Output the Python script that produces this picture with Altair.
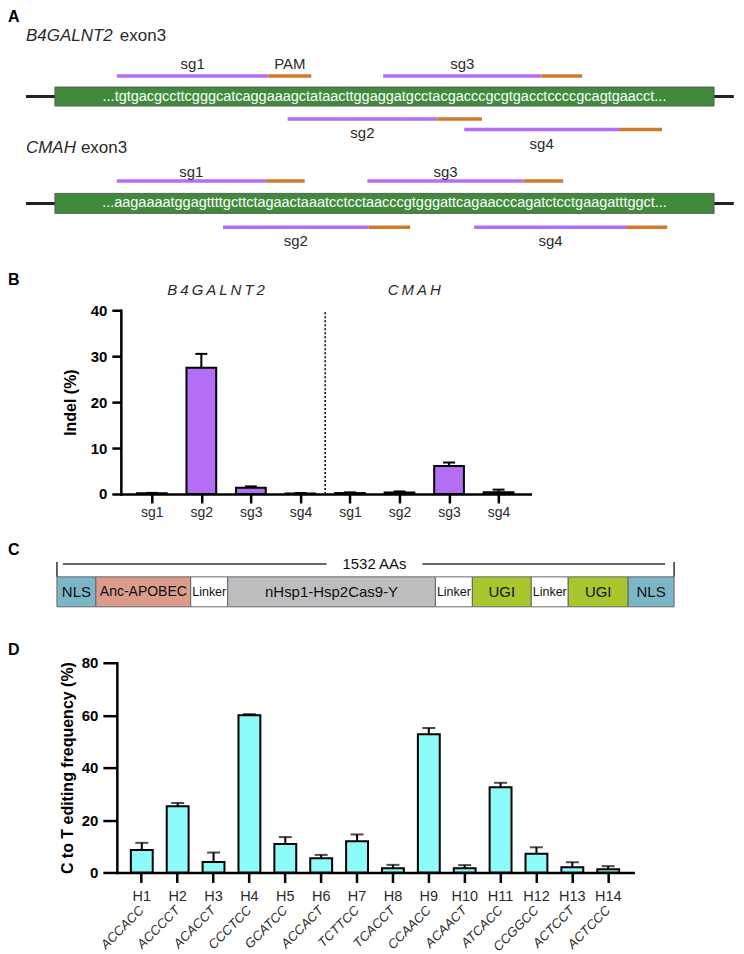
import json
import altair as alt
import pandas as pd

FONT = "Liberation Sans"
W = 728
TXT = "#2a2a2a"
PURPLE = "#B46EF6"
ORANGE = "#D17A2C"
GREEN = "#3F8B3B"
CYAN = "#8EFBFB"

# ======================= DATA =======================
# ---- Panel A: exon sequences and sgRNA positions (position along drawn exon, % of box)
exon_genes = ["B4GALNT2", "CMAH"]
exon_seqs = [
    "...tgtgacgccttcgggcatcaggaaagctataacttggaggatgcctacgacccgcgtgacctccccgcagtgaacct...",
    "...aagaaaatggagttttgcttctagaactaaatcctcctaacccgtgggattcagaacccagatctcctgaagatttggct...",
]
guide_names = ["sg1", "sg2", "sg3", "sg4"]
b4_spacer_start = [9.4, 35.3, 49.8, 62.1]
b4_pam_start = [32.4, 58.0, 73.8, 85.6]
b4_pam_end = [38.9, 64.8, 80.0, 92.1]
b4_track = ["top", "bottom1", "top", "bottom2"]
cmah_spacer_start = [9.4, 25.5, 47.4, 63.6]
cmah_pam_start = [32.0, 47.6, 71.1, 86.8]
cmah_pam_end = [37.9, 53.9, 77.1, 92.9]
cmah_track = ["top", "bottom1", "top", "bottom1"]

# ---- Panel B: indel frequencies
b_genes = ["B4GALNT2", "CMAH"]
b_guides = ["sg1", "sg2", "sg3", "sg4"]
b_indel = [[0.15, 27.5, 1.35, 0.12], [0.2, 0.3, 6.1, 0.4]]
b_indel_sd = [[0.08, 3.0, 0.3, 0.08], [0.15, 0.25, 0.75, 0.55]]

# ---- Panel C: base editor architecture
c_domains = ["NLS", "Anc-APOBEC", "Linker", "nHsp1-Hsp2Cas9-Y", "Linker", "UGI", "Linker", "UGI", "NLS"]
c_widths = [39, 95, 37, 208, 37, 59, 37, 60, 46]
c_total = "1532 AAs"

# ---- Panel D: C to T editing per haplotype
d_haps = ["H1", "H2", "H3", "H4", "H5", "H6", "H7", "H8", "H9", "H10", "H11", "H12", "H13", "H14"]
d_motifs = ["ACCACC", "ACCCCT", "ACACCT", "CCCTCC", "GCATCC", "ACCACT", "TCTTCC",
            "TCACCT", "CCAACC", "ACAACT", "ATCACC", "CCGGCC", "ACTCCT", "ACTCCC"]
d_freq = [8.6, 25.3, 4.0, 60.0, 10.9, 5.4, 11.9, 1.6, 52.7, 1.6, 32.5, 7.1, 2.0, 1.2]
d_sd = [2.7, 1.2, 3.6, 0.4, 2.6, 1.3, 2.6, 1.3, 2.4, 1.2, 1.7, 2.5, 1.9, 1.2]

# ======================= LAYOUT =======================
A_H, B_H, C_H, D_H = 250, 272, 95, 321


def letter(ch, y, baseline="middle"):
    return alt.Chart(pd.DataFrame({"t": [ch]})).mark_text(
        font=FONT, fontSize=16, fontWeight="bold", align="left", baseline=baseline, color="black"
    ).encode(x=alt.value(0), y=alt.value(y), text="t:N")


# ----------------------- Panel A -----------------------
a_layout = {
    "B4GALNT2": dict(title=27, box=(78.5, 97.5), mid=88, top=67.5, bottom1=110.5, bottom2=121,
                     up=12, dn=14.5, exon_x=112),
    "CMAH": dict(title=140, box=(185, 205), mid=195, top=172.7, bottom1=219,
                 up=9, dn=14, exon_x=73),
}
xA = alt.Scale(domain=[-7.12, 103.18], nice=False, zero=False)

ex_rows = []
for g, seq in zip(exon_genes, exon_seqs):
    L = a_layout[g]
    ex_rows.append(dict(gene=g, seq=seq, lx0=-4.4, lx1=103.0, bx0=0.0, bx1=100.0, sx=50.0,
                        ymid=L["mid"], ytop=L["box"][0], ybot=L["box"][1]))
exA = pd.DataFrame(ex_rows)

g_rows = []
for g, st, ps, pe, tr in [("B4GALNT2", b4_spacer_start, b4_pam_start, b4_pam_end, b4_track),
                          ("CMAH", cmah_spacer_start, cmah_pam_start, cmah_pam_end, cmah_track)]:
    L = a_layout[g]
    for name, s, p, e, t in zip(guide_names, st, ps, pe, tr):
        y = L[t]
        ly = y - L["up"] if t == "top" else y + L["dn"]
        g_rows.append(dict(gene=g, guide=name, s=s, p=p, e=e, y=y, ly=ly,
                           lx=(s + p) / 2, px=(p + e) / 2))
gA = pd.DataFrame(g_rows)
pamA = gA[(gA.gene == "B4GALNT2") & (gA.guide == "sg1")].assign(lab="PAM")

baseA = alt.Chart(exA)
a_line = baseA.mark_rule(color="#222", strokeWidth=3).encode(
    x=alt.X("lx0:Q", scale=xA, axis=None), x2="lx1:Q", y=alt.Y("ymid:Q", scale=None))
a_box = baseA.mark_rect(fill=GREEN, stroke="#5a5a5a", strokeWidth=1).encode(
    x=alt.X("bx0:Q", scale=xA, axis=None), x2="bx1:Q", y=alt.Y("ytop:Q", scale=None), y2="ybot:Q")
a_seq = baseA.mark_text(font=FONT, fontSize=14.5, color="white").encode(
    x=alt.X("sx:Q", scale=xA, axis=None), y=alt.Y("ymid:Q", scale=None), text="seq:N")

gbase = alt.Chart(gA)
a_spacer = gbase.mark_rule(color=PURPLE, strokeWidth=3.5).encode(
    x=alt.X("s:Q", scale=xA, axis=None), x2="p:Q", y=alt.Y("y:Q", scale=None))
a_pam = gbase.mark_rule(color=ORANGE, strokeWidth=3.5).encode(
    x=alt.X("p:Q", scale=xA, axis=None), x2="e:Q", y=alt.Y("y:Q", scale=None))
a_glab = gbase.mark_text(font=FONT, fontSize=15, color=TXT).encode(
    x=alt.X("lx:Q", scale=xA, axis=None), y=alt.Y("ly:Q", scale=None), text="guide:N")
a_pamlab = alt.Chart(pamA).mark_text(font=FONT, fontSize=15, color=TXT).encode(
    x=alt.X("px:Q", scale=xA, axis=None), y=alt.Y("ly:Q", scale=None), text="lab:N")

a_titles = []
for g in exon_genes:
    L = a_layout[g]
    df = pd.DataFrame({"name": [g], "ex": ["exon3"]})
    a_titles.append(alt.Chart(df).mark_text(font=FONT, fontSize=17, fontStyle="italic", align="left",
                                            color=TXT).encode(x=alt.value(18), y=alt.value(L["title"]), text="name:N"))
    a_titles.append(alt.Chart(df).mark_text(font=FONT, fontSize=17, align="left",
                                            color=TXT).encode(x=alt.value(L["exon_x"]), y=alt.value(L["title"]), text="ex:N"))

panelA = alt.layer(a_line, a_box, a_seq, a_spacer, a_pam, a_glab, a_pamlab, *a_titles,
                   letter("A", 0, "top")).properties(width=W, height=A_H)

# ----------------------- Panel B -----------------------
rowsB = []
for gi, g in enumerate(b_genes):
    for j, s in enumerate(b_guides):
        i = gi * len(b_guides) + j + 1
        v = b_indel[gi][j]
        e = b_indel_sd[gi][j]
        rowsB.append(dict(gene=g, guide=s, idx=i, lo=i - 0.3, hi=i + 0.3, clo=i - 0.12, chi=i + 0.12,
                          val=v, up=v + e))
dfB = pd.DataFrame(rowsB)
titleB = dfB.groupby("gene", as_index=False)["idx"].mean()
titleB["label"] = titleB["gene"].map(lambda s: "\u2009".join(s))
divB = pd.DataFrame({"x": [len(b_guides) + 0.5], "y0": [0], "y1": [40]})

xB = alt.Scale(domain=[0.375, 8.64], range=[113, 523], nice=False, zero=False)
yB = alt.Scale(domain=[0, 40], range=[236, 52], nice=False, zero=True)
labelsB = b_guides * len(b_genes)
axXB = alt.Axis(values=list(range(1, len(labelsB) + 1)), labelExpr=f"{json.dumps(labelsB)}[datum.value - 1]",
                title=None, grid=False, offset=-(B_H - 236), domainColor="black", domainWidth=2.5,
                domainCap="square", tickColor="black", tickWidth=2.5, tickSize=9, labelFont=FONT,
                labelFontSize=14, labelColor=TXT, labelPadding=3, labelOverlap=False, labelFlush=False)
axYB = alt.Axis(values=[0, 10, 20, 30, 40], title="Indel (%)", grid=False, offset=-113,
                domainColor="black", domainWidth=2.5, domainCap="square", tickColor="black", tickWidth=2.5,
                tickSize=9, labelFont=FONT, labelFontSize=15, labelFontWeight="bold", labelColor="black",
                labelPadding=5, titleFont=FONT, titleFontSize=16, titleFontWeight="bold", titleColor="black",
                titlePadding=12, labelOverlap=False)

baseB = alt.Chart(dfB)
b_bars = baseB.mark_bar(fill=PURPLE, stroke="black", strokeWidth=2).encode(
    x=alt.X("lo:Q", scale=xB, axis=axXB), x2="hi:Q",
    y=alt.Y("val:Q", scale=yB, axis=axYB), y2=alt.datum(0))
b_stem = baseB.mark_rule(color="black", strokeWidth=2).encode(
    x=alt.X("idx:Q", scale=xB, axis=axXB), y=alt.Y("val:Q", scale=yB, axis=axYB), y2="up:Q")
b_cap = baseB.mark_rule(color="black", strokeWidth=2).encode(
    x=alt.X("clo:Q", scale=xB, axis=axXB), x2="chi:Q", y=alt.Y("up:Q", scale=yB, axis=axYB))
b_div = alt.Chart(divB).mark_rule(color="black", strokeWidth=1.5, strokeDash=[2, 2]).encode(
    x=alt.X("x:Q", scale=xB, axis=axXB), y=alt.Y("y0:Q", scale=yB, axis=axYB), y2="y1:Q")
b_title = alt.Chart(titleB).mark_text(font=FONT, fontSize=15, fontStyle="italic", color=TXT, dx=-10).encode(
    x=alt.X("idx:Q", scale=xB, axis=axXB), y=alt.value(32), text="label:N")

panelB = alt.layer(b_bars, b_stem, b_cap, b_div, b_title, letter("B", 22)).properties(width=W, height=B_H)

# ----------------------- Panel C -----------------------
c_fill = {"NLS": "#7BB6C8", "Anc-APOBEC": "#DC9C8C", "Linker": "#FFFFFF",
          "nHsp1-Hsp2Cas9-Y": "#BEBEC0", "UGI": "#A8C62E"}
c_fs = {"Linker": 12.5, "Anc-APOBEC": 14}
rowsC = []
pos = 0
for name, w in zip(c_domains, c_widths):
    rowsC.append(dict(name=name, x0=pos, x1=pos + w, xm=pos + w / 2, fill=c_fill[name],
                      fs=c_fs.get(name, 15)))
    pos += w
dfC = pd.DataFrame(rowsC)
total = pos
lab_x = total / 2 + 9
brC = pd.DataFrame({"x0": [6, lab_x + 48], "x1": [lab_x - 48, total - 9]})
vtC = pd.DataFrame({"x": [0, total]})
labC = pd.DataFrame({"x": [lab_x], "t": [c_total]})
xC = alt.Scale(domain=[-49, 679], nice=False, zero=False)

c_rect = alt.Chart(dfC).mark_rect(stroke="#666", strokeWidth=1).encode(
    x=alt.X("x0:Q", scale=xC, axis=None), x2="x1:Q", y=alt.value(47), y2=alt.value(77),
    fill=alt.Fill("fill:N", scale=None))
c_text = alt.Chart(dfC).mark_text(font=FONT, color="#111").encode(
    x=alt.X("xm:Q", scale=xC, axis=None), y=alt.value(62), text="name:N",
    size=alt.Size("fs:Q", scale=None))
c_line = alt.Chart(brC).mark_rule(color="#333", strokeWidth=1.5).encode(
    x=alt.X("x0:Q", scale=xC, axis=None), x2="x1:Q", y=alt.value(34))
c_vert = alt.Chart(vtC).mark_rule(color="#333", strokeWidth=1.5).encode(
    x=alt.X("x:Q", scale=xC, axis=None), y=alt.value(32), y2=alt.value(47))
c_lab = alt.Chart(labC).mark_text(font=FONT, fontSize=15, color="#111").encode(
    x=alt.X("x:Q", scale=xC, axis=None), y=alt.value(34), text="t:N")

panelC = alt.layer(c_rect, c_text, c_line, c_vert, c_lab, letter("C", 20)).properties(width=W, height=C_H)

# ----------------------- Panel D -----------------------
dfD = pd.DataFrame({"hap": d_haps, "motif": d_motifs, "freq": d_freq,
                    "up": [f + s for f, s in zip(d_freq, d_sd)]})
xD = alt.Scale(domain=d_haps, range=[109, 626], paddingInner=0.39, paddingOuter=0.39)
yD = alt.Scale(domain=[0, 80], range=[248, 38], nice=False)
axXD = alt.Axis(title=None, grid=False, offset=-(D_H - 248), labelAngle=0, domainColor="black",
                domainWidth=2.5, domainCap="square", tickColor="black", tickWidth=2.5, tickSize=10,
                labelFont=FONT, labelFontSize=14.5, labelColor=TXT, labelPadding=7)
axYD = alt.Axis(values=[0, 20, 40, 60, 80], title="C to T editing frequency (%)", grid=False, offset=-109,
                domainColor="black", domainWidth=2.5, domainCap="square", tickColor="black", tickWidth=2.5,
                tickSize=14, labelFont=FONT, labelFontSize=15, labelFontWeight="bold", labelColor="black",
                labelPadding=5, titleFont=FONT, titleFontSize=16, titleFontWeight="bold", titleColor="black",
                titlePadding=6, labelOverlap=False)
baseD = alt.Chart(dfD)
d_bars = baseD.mark_bar(fill=CYAN, stroke="black", strokeWidth=2).encode(
    x=alt.X("hap:N", scale=xD, axis=axXD, sort=None),
    y=alt.Y("freq:Q", scale=yD, axis=axYD), y2=alt.datum(0))
d_stem = baseD.mark_rule(color="black", strokeWidth=2).encode(
    x=alt.X("hap:N", scale=xD, axis=axXD, sort=None), y=alt.Y("freq:Q", scale=yD, axis=axYD), y2="up:Q")
d_cap = baseD.mark_tick(color="black", thickness=2, size=13).encode(
    x=alt.X("hap:N", scale=xD, axis=axXD, sort=None), y=alt.Y("up:Q", scale=yD, axis=axYD))
d_motif = baseD.mark_text(font=FONT, fontSize=13, fontStyle="italic", color=TXT, angle=315,
                          align="right", baseline="middle").encode(
    x=alt.X("hap:N", scale=xD, axis=axXD, sort=None), y=alt.value(284), text="motif:N")

panelD = alt.layer(d_bars, d_stem, d_cap, d_motif, letter("D", 25)).properties(width=W, height=D_H)

chart = alt.vconcat(panelA, panelB, panelC, panelD, spacing=0).properties(padding=0).configure(
    font=FONT).configure_view(stroke=None)

chart.save("out.html", embed_options={"renderer": "svg", "actions": False})
